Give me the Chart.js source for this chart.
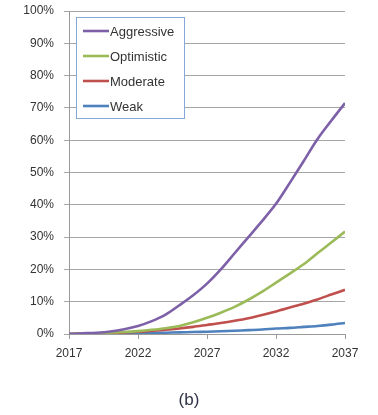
<!DOCTYPE html>
<html>
<head>
<meta charset="utf-8">
<script src="https://cdn.jsdelivr.net/npm/chart.js@4/dist/chart.umd.min.js"></script>
<style>
  html, body { margin: 0; padding: 0; background: #fff; }
  #wrap { position: relative; width: 378px; height: 415px; }
  #adoptionChart { display: block; }
  #caption {
    position: absolute; left: 0; width: 378px; top: 390px; text-align: center;
    font: 17px "Liberation Sans", Arial, sans-serif; color: #2f3446;
  }
</style>
</head>
<body>
<div id="wrap">
  <canvas id="adoptionChart" width="378" height="415"></canvas>
  <div id="caption">(b)</div>
</div>
<script>
// Adoption scenarios, share in percent per year
const years = [2017, 2018, 2019, 2020, 2021, 2022, 2023, 2024, 2025, 2026, 2027,
               2028, 2029, 2030, 2031, 2032, 2033, 2034, 2035, 2036, 2037];
const aggressive = [0, 0.2, 0.4, 0.8, 1.5, 2.5, 4.0, 6.0, 8.9, 12.0, 15.6,
                    20.0, 25.0, 30.0, 35.0, 40.3, 46.8, 53.5, 60.3, 66.0, 71.5];
const optimistic = [0, 0.1, 0.2, 0.4, 0.6, 0.9, 1.3, 1.8, 2.5, 3.6, 5.0,
                    6.6, 8.4, 10.6, 13.1, 15.9, 18.7, 21.6, 25.0, 28.3, 31.7];
const moderate = [0, 0.1, 0.2, 0.3, 0.5, 0.7, 1.0, 1.3, 1.7, 2.2, 2.8,
                  3.4, 4.1, 4.9, 5.9, 7.0, 8.2, 9.4, 10.7, 12.2, 13.7];
const weak = [0, 0.05, 0.1, 0.15, 0.2, 0.3, 0.35, 0.4, 0.5, 0.6, 0.7,
              0.85, 1.0, 1.2, 1.4, 1.7, 1.9, 2.2, 2.5, 2.9, 3.4];
const xTicks = [2017, 2022, 2027, 2032, 2037];
const yTicks = [0, 10, 20, 30, 40, 50, 60, 70, 80, 90, 100];

const FONT = '"Liberation Sans", Arial, sans-serif';

function series(label, values, color) {
    return {
        label: label,
        data: years.map((y, i) => ({ x: y, y: values[i] })),
        borderColor: color,
        backgroundColor: color,
        borderWidth: 2.6,
        pointRadius: 0,
        tension: 0.3,
        fill: false
    };
}

// legend box drawn inside the plot, top left
const boxLegend = {
    id: 'boxLegend',
    afterDatasetsDraw(chart) {
        const ctx = chart.ctx;
        const x = 76, y = 17, w = 108, h = 101;
        ctx.save();
        ctx.fillStyle = '#fff';
        ctx.fillRect(x, y, w, h);
        ctx.strokeStyle = '#86a8d4';
        ctx.lineWidth = 1;
        ctx.strokeRect(x + 0.5, y + 0.5, w, h);
        ctx.font = '13px ' + FONT;
        ctx.textBaseline = 'middle';
        chart.data.datasets.forEach((ds, i) => {
            const ry = 31 + i * 25;
            ctx.strokeStyle = ds.borderColor;
            ctx.lineWidth = 2.6;
            ctx.beginPath();
            ctx.moveTo(83, ry);
            ctx.lineTo(109, ry);
            ctx.stroke();
            ctx.fillStyle = '#333';
            ctx.fillText(ds.label, 110, ry + 1);
        });
        ctx.restore();
    }
};

new Chart(document.getElementById('adoptionChart'), {
    type: 'line',
    data: {
        datasets: [
            series('Aggressive', aggressive, '#7d60a8'),
            series('Optimistic', optimistic, '#9bbb59'),
            series('Moderate', moderate, '#c0504d'),
            series('Weak', weak, '#4f81bd')
        ]
    },
    options: {
        responsive: false,
        animation: false,
        layout: { padding: { top: 11, right: 33, bottom: 0, left: 0 } },
        plugins: {
            legend: { display: false },
            tooltip: { enabled: false }
        },
        scales: {
            x: {
                type: 'linear',
                min: 2017,
                max: 2037,
                afterBuildTicks: s => { s.ticks = xTicks.map(v => ({ value: v })); },
                afterFit: s => { s.height = 415 - 334; },
                grid: { drawOnChartArea: false, tickLength: 5, color: '#9a9a9a' },
                border: { color: '#9a9a9a' },
                ticks: {
                    padding: 7,
                    color: '#333',
                    font: { family: FONT, size: 12 },
                    callback: v => String(v)
                }
            },
            y: {
                min: 0,
                max: 100,
                afterBuildTicks: s => { s.ticks = yTicks.map(v => ({ value: v })); },
                // fixed axis width; drop the label overhang so the top gridline sits at the padding
                afterFit: s => { s.width = 69; s.paddingTop = 0; },
                grid: { tickLength: 5, color: '#a6a6a6' },
                border: { color: '#9a9a9a' },
                ticks: {
                    padding: 10,
                    color: '#333',
                    font: { family: FONT, size: 12 },
                    callback: v => v + '%'
                }
            }
        }
    },
    plugins: [boxLegend]
});
</script>
</body>
</html>
